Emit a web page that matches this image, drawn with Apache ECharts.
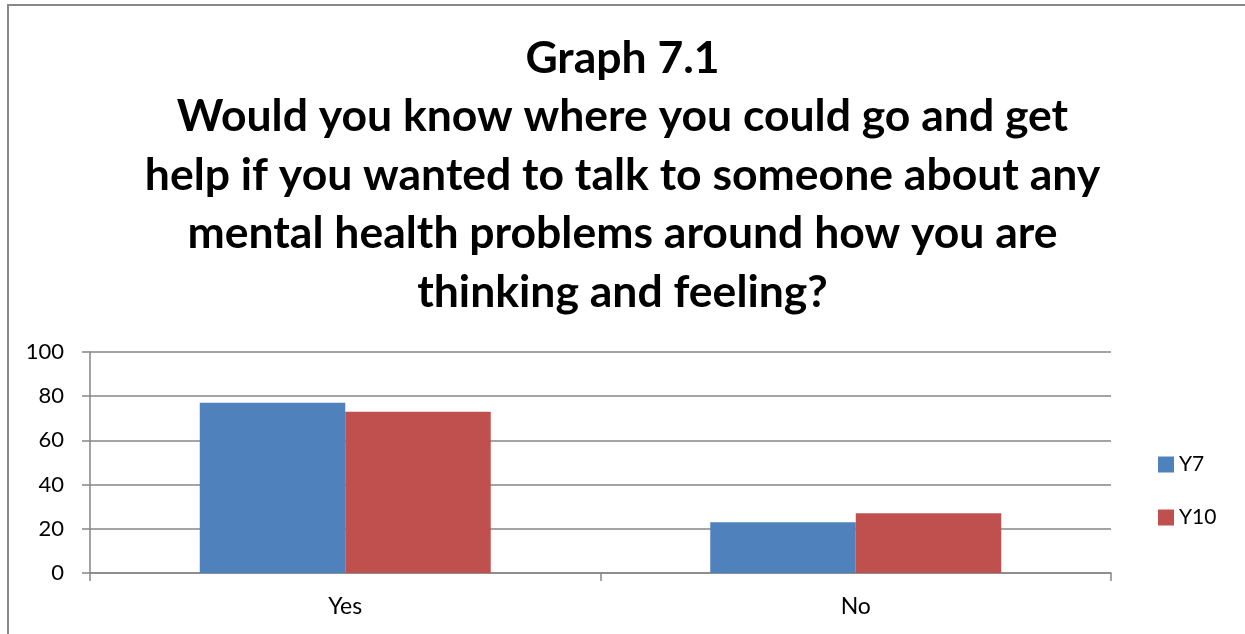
<!DOCTYPE html>
<html><head><meta charset="utf-8">
<script src="https://cdn.jsdelivr.net/npm/echarts@6/dist/echarts.min.js"></script>
<style>html,body{margin:0;padding:0;background:#fff}#c{width:1245px;height:634px}</style>
</head><body><div id="c"></div>
<script>
const titleText = "Graph 7.1\nWould you know where you could go and get\nhelp if you wanted to talk to someone about any\nmental health problems around how you are\nthinking and feeling?";
const categories = ["Yes", "No"];
const seriesNames = ["Y7", "Y10"];
const y7Values = [77, 23];
const y10Values = [73, 27];
const yTicks = {min: 0, max: 100, interval: 20};

const chart = echarts.init(document.getElementById('c'));
const font = "Lato, 'Open Sans', sans-serif";
chart.setOption({
  animation: false,
  backgroundColor: '#fff',
  graphic: [{type: 'rect', shape: {x: 8, y: 5, width: 1400, height: 800}, style: {fill: 'none', stroke: '#888', lineWidth: 2}, z: -1}],
  title: {text: titleText, left: 'center', top: 24,
    textStyle: {fontFamily: font, fontWeight: 'bold', fontSize: 44.5, lineHeight: 58.5, color: '#000'}},
  legend: {orient: 'vertical', left: 1153, top: 449, itemWidth: 16, itemHeight: 16, itemGap: 32,
    icon: 'rect', textStyle: {fontFamily: font, fontSize: 21, color: '#000'}, data: seriesNames},
  grid: {left: 90, right: 134, top: 352, bottom: 61, containLabel: false},
  xAxis: {type: 'category', data: categories,
    axisLine: {lineStyle: {color: '#868686', width: 1.5}},
    axisTick: {show: true, length: 8, lineStyle: {color: '#868686', width: 1.5}},
    axisLabel: {fontFamily: font, fontSize: 23, color: '#000', margin: 22}},
  yAxis: {type: 'value', min: yTicks.min, max: yTicks.max, interval: yTicks.interval,
    axisLine: {show: true, lineStyle: {color: '#868686', width: 1.5}},
    axisTick: {show: true, length: 8, lineStyle: {color: '#868686', width: 1.5}},
    splitLine: {lineStyle: {color: '#868686', width: 1.5}},
    axisLabel: {fontFamily: font, fontSize: 22, color: '#000', margin: 26}},
  series: [
    {name: seriesNames[0], type: 'bar', data: y7Values, barGap: '0%', barCategoryGap: '43%', itemStyle: {color: '#4F81BD'}},
    {name: seriesNames[1], type: 'bar', data: y10Values, barGap: '0%', barCategoryGap: '43%', itemStyle: {color: '#C0504D'}}
  ]
});
</script></body></html>
